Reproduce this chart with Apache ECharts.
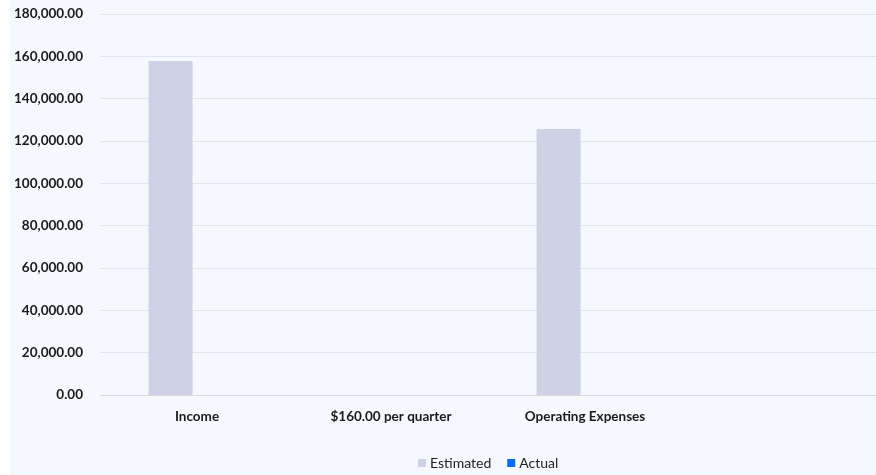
<!DOCTYPE html>
<html>
<head>
<meta charset="utf-8">
<style>
  html, body { margin: 0; padding: 0; background: #ffffff; }
  #chart { position: absolute; left: 10px; top: 0; width: 866px; height: 475px; background: #f5f8fc; }
</style>
<script src="https://cdn.jsdelivr.net/npm/echarts@6/dist/echarts.min.js"></script>
</head>
<body>
<div id="chart"></div>
<script>
const categories = ['Income', '$160.00 per quarter', 'Operating Expenses', ''];
const estimated = [157800, 0, 125700, 0];
const actual = [0, 0, 0, 0];
const seriesNames = ['Estimated', 'Actual'];

function fmt(v) {
  return Number(v).toFixed(2).replace(/\B(?=(\d{3})+(?!\d))/g, ',');
}

const chart = echarts.init(document.getElementById('chart'), null, { renderer: 'canvas' });
chart.setOption({
  backgroundColor: '#f5f8fc',
  animation: false,
  textStyle: { fontFamily: 'Lato, "Open Sans", sans-serif' },
  grid: { left: 90, right: 0, top: 14, bottom: 80, containLabel: false },
  legend: {
    left: 403, top: 451,
    itemWidth: 8, itemHeight: 8, itemGap: 16,
    icon: 'rect',
    textStyle: { fontSize: 14, color: '#222', fontFamily: 'Lato, sans-serif', padding: [0, 0, 0, -1] },
    data: seriesNames
  },
  xAxis: {
    type: 'category',
    data: categories,
    axisLine: { lineStyle: { color: '#d9d9d9', width: 1 } },
    axisTick: { show: false },
    axisLabel: { fontSize: 13.5, fontWeight: 'bold', color: '#1a1a1a', margin: 15, interval: 0 }
  },
  yAxis: {
    type: 'value',
    min: 0, max: 180000, interval: 20000,
    axisLine: { show: false },
    axisTick: { show: false },
    axisLabel: { fontSize: 13.5, fontWeight: 'bold', color: '#1a1a1a', margin: 17, formatter: fmt },
    splitLine: { lineStyle: { color: '#dce6f1', width: 1 } }
  },
  series: [
    { name: seriesNames[0], type: 'bar', data: estimated, barWidth: 44, barGap: '20%', itemStyle: { color: '#cdd2e5' } },
    { name: seriesNames[1], type: 'bar', data: actual, barWidth: 44, itemStyle: { color: '#0a6cf0' } }
  ]
});
</script>
</body>
</html>
